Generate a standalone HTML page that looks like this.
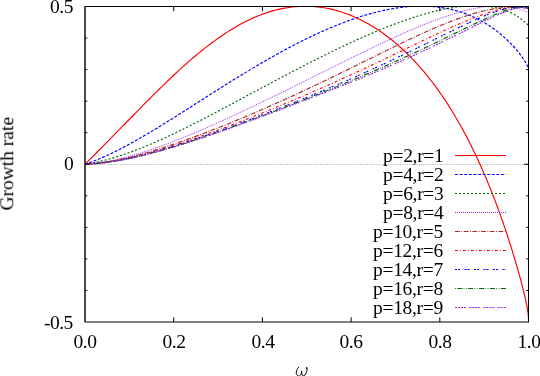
<!DOCTYPE html><html><head><meta charset="utf-8"><title>Growth rate</title><style>
html,body{margin:0;padding:0;background:#fff;}
#w{position:relative;width:540px;height:376px;overflow:hidden;background:#fff;font-family:"Liberation Serif",serif;font-size:19.5px;color:#000;}
.t{position:absolute;white-space:nowrap;line-height:1;will-change:transform;}
</style></head><body><div id="w">
<svg width="540" height="376" viewBox="0 0 540 376" style="position:absolute;left:0;top:0">
<rect width="540" height="376" fill="#fff"/>
<line x1="85.0" y1="164.5" x2="528.5" y2="164.5" stroke="#ababab" stroke-width="1" stroke-dasharray="1 1.35"/>
<clipPath id="c"><rect x="85.0" y="6.5" width="443.5" height="315.5"/></clipPath>
<g clip-path="url(#c)" fill="none" stroke-linejoin="round">
<path d="M85.00,164.25 L87.69,161.57 L90.38,158.88 L93.07,156.18 L95.76,153.48 L98.45,150.78 L101.14,148.07 L103.82,145.35 L106.51,142.63 L109.20,139.90 L111.88,137.17 L114.57,134.44 L117.25,131.70 L119.93,128.96 L122.61,126.22 L125.29,123.48 L127.97,120.74 L130.64,118.00 L133.32,115.27 L135.99,112.54 L138.66,109.82 L141.33,107.10 L144.00,104.40 L146.66,101.71 L149.33,99.03 L151.99,96.36 L154.64,93.71 L157.30,91.08 L159.95,88.47 L162.60,85.88 L165.25,83.31 L167.89,80.76 L170.53,78.24 L173.17,75.75 L175.81,73.29 L178.44,70.85 L181.06,68.45 L183.69,66.07 L186.31,63.74 L188.93,61.43 L191.54,59.17 L194.15,56.94 L196.75,54.75 L199.35,52.60 L201.95,50.49 L204.54,48.42 L207.13,46.40 L209.71,44.42 L212.29,42.48 L214.87,40.59 L217.44,38.75 L220.00,36.96 L222.56,35.21 L225.12,33.51 L227.66,31.86 L230.21,30.25 L232.75,28.70 L235.28,27.20 L237.81,25.75 L240.33,24.35 L242.85,23.01 L245.36,21.71 L247.86,20.47 L250.36,19.28 L252.85,18.14 L255.34,17.05 L257.82,16.02 L260.30,15.04 L262.76,14.11 L265.22,13.24 L267.68,12.41 L270.13,11.64 L272.57,10.92 L275.00,10.26 L277.43,9.64 L279.85,9.08 L282.26,8.57 L284.67,8.11 L287.06,7.70 L289.45,7.35 L291.84,7.04 L294.21,6.78 L296.58,6.57 L298.94,6.41 L301.29,6.30 L303.64,6.24 L305.97,6.23 L308.30,6.26 L310.62,6.35 L312.93,6.47 L315.24,6.65 L317.53,6.87 L319.82,7.14 L322.09,7.45 L324.36,7.80 L326.62,8.20 L328.87,8.65 L331.12,9.13 L333.35,9.66 L335.57,10.23 L337.79,10.85 L339.99,11.50 L342.19,12.20 L344.38,12.93 L346.55,13.71 L348.72,14.53 L350.88,15.38 L353.03,16.27 L355.16,17.20 L357.29,18.17 L359.41,19.18 L361.52,20.22 L363.62,21.30 L365.70,22.42 L367.78,23.57 L369.85,24.75 L371.90,25.97 L373.95,27.23 L375.98,28.52 L378.01,29.84 L380.02,31.20 L382.03,32.59 L384.02,34.01 L386.00,35.47 L387.97,36.96 L389.93,38.48 L391.87,40.03 L393.81,41.61 L395.74,43.22 L397.65,44.87 L399.55,46.54 L401.44,48.24 L403.32,49.98 L405.19,51.74 L407.04,53.53 L408.89,55.35 L410.72,57.20 L412.54,59.08 L414.34,60.98 L416.14,62.91 L417.92,64.87 L419.69,66.86 L421.45,68.87 L423.20,70.91 L424.93,72.98 L426.65,75.07 L428.36,77.18 L430.06,79.33 L431.74,81.49 L433.41,83.68 L435.07,85.90 L436.72,88.13 L438.35,90.40 L439.97,92.68 L441.57,94.99 L443.17,97.31 L444.75,99.66 L446.31,102.04 L447.86,104.43 L449.40,106.84 L450.93,109.27 L452.44,111.72 L453.94,114.19 L455.43,116.68 L456.90,119.19 L458.36,121.71 L459.80,124.25 L461.24,126.80 L462.65,129.38 L464.06,131.96 L465.45,134.56 L466.82,137.17 L468.18,139.80 L469.53,142.44 L470.86,145.09 L472.18,147.75 L473.49,150.42 L474.78,153.10 L476.05,155.78 L477.31,158.48 L478.56,161.18 L479.79,163.89 L481.01,166.60 L482.22,169.32 L483.41,172.03 L484.58,174.76 L485.74,177.48 L486.88,180.20 L488.01,182.93 L489.13,185.65 L490.23,188.37 L491.32,191.08 L492.39,193.79 L493.44,196.50 L494.48,199.20 L495.51,201.89 L496.52,204.57 L497.51,207.25 L498.49,209.91 L499.46,212.56 L500.41,215.20 L501.34,217.83 L502.26,220.44 L503.17,223.03 L504.05,225.61 L504.93,228.17 L505.78,230.71 L506.63,233.23 L507.45,235.73 L508.26,238.21 L509.06,240.66 L509.84,243.09 L510.60,245.50 L511.35,247.88 L512.09,250.23 L512.80,252.55 L513.50,254.85 L514.19,257.11 L514.86,259.35 L515.51,261.55 L516.15,263.73 L516.77,265.87 L517.38,267.97 L517.97,270.04 L518.55,272.08 L519.10,274.08 L519.65,276.05 L520.17,277.97 L520.68,279.86 L521.18,281.72 L521.66,283.53 L522.12,285.31 L522.57,287.05 L523.00,288.75 L523.41,290.41 L523.81,292.03 L524.19,293.61 L524.56,295.15 L524.91,296.66 L525.24,298.12 L525.56,299.55 L525.86,300.93 L526.14,302.28 L526.41,303.59 L526.67,304.86 L526.90,306.09 L527.12,307.29 L527.33,308.45 L527.51,309.58 L527.68,310.67 L527.84,311.73 L527.98,312.75 L528.10,313.75 L528.21,314.71 L528.30,315.64 L528.37,316.54 L528.43,317.42 L528.47,318.27 L528.49,319.09 L528.50,319.89" stroke="#ff0000" stroke-width="1.15"/>
<path d="M85.00,164.25 L87.69,163.33 L90.38,162.37 L93.07,161.36 L95.76,160.31 L98.45,159.21 L101.14,158.08 L103.82,156.90 L106.51,155.69 L109.20,154.45 L111.88,153.17 L114.57,151.86 L117.25,150.53 L119.93,149.16 L122.61,147.77 L125.29,146.35 L127.97,144.91 L130.64,143.45 L133.32,141.97 L135.99,140.47 L138.66,138.95 L141.33,137.41 L144.00,135.86 L146.66,134.29 L149.33,132.71 L151.99,131.12 L154.64,129.51 L157.30,127.90 L159.95,126.28 L162.60,124.64 L165.25,123.01 L167.89,121.36 L170.53,119.71 L173.17,118.06 L175.81,116.40 L178.44,114.74 L181.06,113.07 L183.69,111.41 L186.31,109.74 L188.93,108.08 L191.54,106.41 L194.15,104.75 L196.75,103.09 L199.35,101.43 L201.95,99.77 L204.54,98.12 L207.13,96.48 L209.71,94.83 L212.29,93.20 L214.87,91.57 L217.44,89.94 L220.00,88.32 L222.56,86.71 L225.12,85.11 L227.66,83.52 L230.21,81.93 L232.75,80.36 L235.28,78.79 L237.81,77.24 L240.33,75.69 L242.85,74.16 L245.36,72.63 L247.86,71.12 L250.36,69.62 L252.85,68.13 L255.34,66.65 L257.82,65.19 L260.30,63.74 L262.76,62.30 L265.22,60.88 L267.68,59.47 L270.13,58.08 L272.57,56.70 L275.00,55.33 L277.43,53.98 L279.85,52.64 L282.26,51.32 L284.67,50.02 L287.06,48.73 L289.45,47.46 L291.84,46.20 L294.21,44.96 L296.58,43.74 L298.94,42.53 L301.29,41.34 L303.64,40.17 L305.97,39.02 L308.30,37.88 L310.62,36.77 L312.93,35.67 L315.24,34.58 L317.53,33.52 L319.82,32.47 L322.09,31.45 L324.36,30.44 L326.62,29.45 L328.87,28.48 L331.12,27.53 L333.35,26.60 L335.57,25.69 L337.79,24.80 L339.99,23.93 L342.19,23.07 L344.38,22.24 L346.55,21.43 L348.72,20.64 L350.88,19.87 L353.03,19.12 L355.16,18.39 L357.29,17.68 L359.41,16.99 L361.52,16.32 L363.62,15.67 L365.70,15.05 L367.78,14.44 L369.85,13.86 L371.90,13.29 L373.95,12.75 L375.98,12.23 L378.01,11.73 L380.02,11.25 L382.03,10.79 L384.02,10.36 L386.00,9.94 L387.97,9.55 L389.93,9.18 L391.87,8.83 L393.81,8.50 L395.74,8.19 L397.65,7.91 L399.55,7.64 L401.44,7.40 L403.32,7.18 L405.19,6.98 L407.04,6.80 L408.89,6.64 L410.72,6.50 L412.54,6.39 L414.34,6.29 L416.14,6.22 L417.92,6.16 L419.69,6.13 L421.45,6.12 L423.20,6.13 L424.93,6.16 L426.65,6.21 L428.36,6.28 L430.06,6.37 L431.74,6.48 L433.41,6.61 L435.07,6.76 L436.72,6.93 L438.35,7.12 L439.97,7.33 L441.57,7.56 L443.17,7.81 L444.75,8.07 L446.31,8.36 L447.86,8.66 L449.40,8.98 L450.93,9.32 L452.44,9.67 L453.94,10.05 L455.43,10.44 L456.90,10.84 L458.36,11.27 L459.80,11.71 L461.24,12.16 L462.65,12.64 L464.06,13.12 L465.45,13.63 L466.82,14.14 L468.18,14.68 L469.53,15.22 L470.86,15.78 L472.18,16.36 L473.49,16.94 L474.78,17.54 L476.05,18.16 L477.31,18.78 L478.56,19.42 L479.79,20.06 L481.01,20.72 L482.22,21.39 L483.41,22.07 L484.58,22.76 L485.74,23.46 L486.88,24.16 L488.01,24.88 L489.13,25.60 L490.23,26.33 L491.32,27.07 L492.39,27.82 L493.44,28.57 L494.48,29.33 L495.51,30.09 L496.52,30.86 L497.51,31.63 L498.49,32.40 L499.46,33.18 L500.41,33.96 L501.34,34.75 L502.26,35.53 L503.17,36.32 L504.05,37.11 L504.93,37.90 L505.78,38.69 L506.63,39.48 L507.45,40.27 L508.26,41.06 L509.06,41.84 L509.84,42.62 L510.60,43.40 L511.35,44.18 L512.09,44.95 L512.80,45.72 L513.50,46.49 L514.19,47.25 L514.86,48.00 L515.51,48.75 L516.15,49.49 L516.77,50.22 L517.38,50.95 L517.97,51.67 L518.55,52.38 L519.10,53.08 L519.65,53.77 L520.17,54.46 L520.68,55.13 L521.18,55.79 L521.66,56.45 L522.12,57.09 L522.57,57.72 L523.00,58.35 L523.41,58.95 L523.81,59.55 L524.19,60.14 L524.56,60.71 L524.91,61.27 L525.24,61.82 L525.56,62.36 L525.86,62.88 L526.14,63.39 L526.41,63.89 L526.67,64.37 L526.90,64.85 L527.12,65.30 L527.33,65.75 L527.51,66.18 L527.68,66.60 L527.84,67.01 L527.98,67.41 L528.10,67.79 L528.21,68.16 L528.30,68.52 L528.37,68.87 L528.43,69.21 L528.47,69.53 L528.49,69.85 L528.50,70.16" stroke="#0000ff" stroke-width="1.15" stroke-dasharray="3 1.6"/>
<path d="M85.00,164.25 L87.69,163.84 L90.38,163.38 L93.07,162.88 L95.76,162.34 L98.45,161.75 L101.14,161.13 L103.82,160.47 L106.51,159.78 L109.20,159.05 L111.88,158.28 L114.57,157.48 L117.25,156.66 L119.93,155.80 L122.61,154.91 L125.29,154.00 L127.97,153.06 L130.64,152.09 L133.32,151.10 L135.99,150.09 L138.66,149.05 L141.33,147.99 L144.00,146.91 L146.66,145.81 L149.33,144.70 L151.99,143.56 L154.64,142.41 L157.30,141.24 L159.95,140.06 L162.60,138.86 L165.25,137.65 L167.89,136.42 L170.53,135.19 L173.17,133.94 L175.81,132.68 L178.44,131.41 L181.06,130.13 L183.69,128.84 L186.31,127.55 L188.93,126.24 L191.54,124.93 L194.15,123.61 L196.75,122.29 L199.35,120.96 L201.95,119.63 L204.54,118.29 L207.13,116.95 L209.71,115.60 L212.29,114.26 L214.87,112.91 L217.44,111.55 L220.00,110.20 L222.56,108.84 L225.12,107.49 L227.66,106.13 L230.21,104.78 L232.75,103.42 L235.28,102.07 L237.81,100.72 L240.33,99.37 L242.85,98.02 L245.36,96.67 L247.86,95.33 L250.36,93.99 L252.85,92.65 L255.34,91.31 L257.82,89.98 L260.30,88.66 L262.76,87.34 L265.22,86.02 L267.68,84.71 L270.13,83.40 L272.57,82.10 L275.00,80.81 L277.43,79.52 L279.85,78.23 L282.26,76.96 L284.67,75.69 L287.06,74.42 L289.45,73.17 L291.84,71.92 L294.21,70.68 L296.58,69.44 L298.94,68.22 L301.29,67.00 L303.64,65.79 L305.97,64.59 L308.30,63.39 L310.62,62.21 L312.93,61.04 L315.24,59.87 L317.53,58.71 L319.82,57.57 L322.09,56.43 L324.36,55.30 L326.62,54.18 L328.87,53.08 L331.12,51.98 L333.35,50.89 L335.57,49.81 L337.79,48.75 L339.99,47.69 L342.19,46.65 L344.38,45.61 L346.55,44.59 L348.72,43.58 L350.88,42.58 L353.03,41.59 L355.16,40.61 L357.29,39.64 L359.41,38.69 L361.52,37.75 L363.62,36.82 L365.70,35.90 L367.78,34.99 L369.85,34.10 L371.90,33.22 L373.95,32.35 L375.98,31.49 L378.01,30.65 L380.02,29.82 L382.03,29.00 L384.02,28.19 L386.00,27.40 L387.97,26.62 L389.93,25.86 L391.87,25.10 L393.81,24.37 L395.74,23.64 L397.65,22.93 L399.55,22.23 L401.44,21.55 L403.32,20.88 L405.19,20.22 L407.04,19.58 L408.89,18.95 L410.72,18.33 L412.54,17.73 L414.34,17.14 L416.14,16.57 L417.92,16.01 L419.69,15.47 L421.45,14.94 L423.20,14.43 L424.93,13.93 L426.65,13.44 L428.36,12.97 L430.06,12.51 L431.74,12.07 L433.41,11.64 L435.07,11.23 L436.72,10.83 L438.35,10.45 L439.97,10.08 L441.57,9.73 L443.17,9.39 L444.75,9.06 L446.31,8.76 L447.86,8.46 L449.40,8.18 L450.93,7.92 L452.44,7.67 L453.94,7.43 L455.43,7.21 L456.90,7.01 L458.36,6.82 L459.80,6.64 L461.24,6.48 L462.65,6.34 L464.06,6.20 L465.45,6.09 L466.82,5.98 L468.18,5.89 L469.53,5.82 L470.86,5.76 L472.18,5.72 L473.49,5.68 L474.78,5.67 L476.05,5.66 L477.31,5.67 L478.56,5.70 L479.79,5.74 L481.01,5.79 L482.22,5.85 L483.41,5.93 L484.58,6.02 L485.74,6.12 L486.88,6.24 L488.01,6.37 L489.13,6.51 L490.23,6.66 L491.32,6.83 L492.39,7.01 L493.44,7.19 L494.48,7.39 L495.51,7.61 L496.52,7.83 L497.51,8.06 L498.49,8.30 L499.46,8.56 L500.41,8.82 L501.34,9.09 L502.26,9.37 L503.17,9.66 L504.05,9.96 L504.93,10.27 L505.78,10.59 L506.63,10.91 L507.45,11.24 L508.26,11.57 L509.06,11.92 L509.84,12.27 L510.60,12.62 L511.35,12.98 L512.09,13.35 L512.80,13.71 L513.50,14.09 L514.19,14.46 L514.86,14.84 L515.51,15.22 L516.15,15.61 L516.77,15.99 L517.38,16.37 L517.97,16.76 L518.55,17.14 L519.10,17.53 L519.65,17.91 L520.17,18.29 L520.68,18.66 L521.18,19.04 L521.66,19.41 L522.12,19.77 L522.57,20.13 L523.00,20.48 L523.41,20.82 L523.81,21.16 L524.19,21.49 L524.56,21.81 L524.91,22.11 L525.24,22.41 L525.56,22.70 L525.86,22.97 L526.14,23.23 L526.41,23.47 L526.67,23.70 L526.90,23.91 L527.12,24.11 L527.33,24.29 L527.51,24.44 L527.68,24.58 L527.84,24.70 L527.98,24.79 L528.10,24.86 L528.21,24.90 L528.30,24.92 L528.37,24.92 L528.43,24.88 L528.47,24.82 L528.49,24.72 L528.50,24.59" stroke="#006400" stroke-width="1.15" stroke-dasharray="2 2"/>
<path d="M85.00,164.25 L87.69,164.06 L90.38,163.83 L93.07,163.55 L95.76,163.23 L98.45,162.88 L101.14,162.48 L103.82,162.05 L106.51,161.58 L109.20,161.08 L111.88,160.54 L114.57,159.98 L117.25,159.38 L119.93,158.75 L122.61,158.10 L125.29,157.42 L127.97,156.71 L130.64,155.98 L133.32,155.22 L135.99,154.44 L138.66,153.64 L141.33,152.82 L144.00,151.97 L146.66,151.11 L149.33,150.23 L151.99,149.33 L154.64,148.41 L157.30,147.48 L159.95,146.53 L162.60,145.57 L165.25,144.59 L167.89,143.60 L170.53,142.60 L173.17,141.58 L175.81,140.55 L178.44,139.51 L181.06,138.46 L183.69,137.40 L186.31,136.33 L188.93,135.25 L191.54,134.17 L194.15,133.07 L196.75,131.96 L199.35,130.85 L201.95,129.73 L204.54,128.61 L207.13,127.48 L209.71,126.34 L212.29,125.20 L214.87,124.05 L217.44,122.90 L220.00,121.74 L222.56,120.58 L225.12,119.42 L227.66,118.25 L230.21,117.08 L232.75,115.90 L235.28,114.72 L237.81,113.54 L240.33,112.36 L242.85,111.18 L245.36,109.99 L247.86,108.81 L250.36,107.62 L252.85,106.43 L255.34,105.24 L257.82,104.05 L260.30,102.86 L262.76,101.67 L265.22,100.48 L267.68,99.29 L270.13,98.10 L272.57,96.91 L275.00,95.72 L277.43,94.54 L279.85,93.35 L282.26,92.17 L284.67,90.98 L287.06,89.80 L289.45,88.63 L291.84,87.45 L294.21,86.27 L296.58,85.10 L298.94,83.93 L301.29,82.77 L303.64,81.61 L305.97,80.45 L308.30,79.29 L310.62,78.14 L312.93,76.99 L315.24,75.84 L317.53,74.70 L319.82,73.56 L322.09,72.43 L324.36,71.30 L326.62,70.18 L328.87,69.06 L331.12,67.95 L333.35,66.84 L335.57,65.74 L337.79,64.64 L339.99,63.55 L342.19,62.46 L344.38,61.38 L346.55,60.31 L348.72,59.24 L350.88,58.18 L353.03,57.12 L355.16,56.08 L357.29,55.03 L359.41,54.00 L361.52,52.97 L363.62,51.95 L365.70,50.94 L367.78,49.94 L369.85,48.94 L371.90,47.96 L373.95,46.98 L375.98,46.01 L378.01,45.04 L380.02,44.09 L382.03,43.15 L384.02,42.21 L386.00,41.28 L387.97,40.37 L389.93,39.46 L391.87,38.56 L393.81,37.67 L395.74,36.79 L397.65,35.93 L399.55,35.07 L401.44,34.22 L403.32,33.38 L405.19,32.56 L407.04,31.74 L408.89,30.94 L410.72,30.14 L412.54,29.36 L414.34,28.59 L416.14,27.83 L417.92,27.09 L419.69,26.35 L421.45,25.63 L423.20,24.92 L424.93,24.22 L426.65,23.53 L428.36,22.85 L430.06,22.19 L431.74,21.54 L433.41,20.90 L435.07,20.28 L436.72,19.67 L438.35,19.07 L439.97,18.48 L441.57,17.91 L443.17,17.35 L444.75,16.80 L446.31,16.27 L447.86,15.75 L449.40,15.25 L450.93,14.75 L452.44,14.27 L453.94,13.81 L455.43,13.36 L456.90,12.92 L458.36,12.49 L459.80,12.08 L461.24,11.68 L462.65,11.30 L464.06,10.93 L465.45,10.57 L466.82,10.23 L468.18,9.90 L469.53,9.58 L470.86,9.28 L472.18,8.99 L473.49,8.71 L474.78,8.45 L476.05,8.20 L477.31,7.96 L478.56,7.74 L479.79,7.53 L481.01,7.33 L482.22,7.15 L483.41,6.98 L484.58,6.82 L485.74,6.68 L486.88,6.54 L488.01,6.42 L489.13,6.31 L490.23,6.21 L491.32,6.13 L492.39,6.06 L493.44,5.99 L494.48,5.94 L495.51,5.90 L496.52,5.88 L497.51,5.86 L498.49,5.85 L499.46,5.85 L500.41,5.87 L501.34,5.89 L502.26,5.92 L503.17,5.97 L504.05,6.02 L504.93,6.08 L505.78,6.15 L506.63,6.23 L507.45,6.31 L508.26,6.40 L509.06,6.51 L509.84,6.61 L510.60,6.73 L511.35,6.85 L512.09,6.98 L512.80,7.11 L513.50,7.25 L514.19,7.40 L514.86,7.55 L515.51,7.70 L516.15,7.86 L516.77,8.02 L517.38,8.19 L517.97,8.36 L518.55,8.53 L519.10,8.71 L519.65,8.88 L520.17,9.06 L520.68,9.24 L521.18,9.42 L521.66,9.61 L522.12,9.79 L522.57,9.97 L523.00,10.15 L523.41,10.33 L523.81,10.51 L524.19,10.69 L524.56,10.86 L524.91,11.03 L525.24,11.20 L525.56,11.37 L525.86,11.53 L526.14,11.69 L526.41,11.84 L526.67,11.99 L526.90,12.13 L527.12,12.27 L527.33,12.40 L527.51,12.53 L527.68,12.65 L527.84,12.76 L527.98,12.86 L528.10,12.96 L528.21,13.04 L528.30,13.12 L528.37,13.19 L528.43,13.25 L528.47,13.30 L528.49,13.35 L528.50,13.38" stroke="#a020f0" stroke-width="1.0" stroke-dasharray="1 1"/>
<path d="M85.00,164.25 L87.69,164.10 L90.38,163.91 L93.07,163.68 L95.76,163.41 L98.45,163.10 L101.14,162.76 L103.82,162.38 L106.51,161.97 L109.20,161.53 L111.88,161.06 L114.57,160.56 L117.25,160.03 L119.93,159.47 L122.61,158.90 L125.29,158.29 L127.97,157.67 L130.64,157.02 L133.32,156.35 L135.99,155.66 L138.66,154.95 L141.33,154.23 L144.00,153.48 L146.66,152.72 L149.33,151.95 L151.99,151.16 L154.64,150.35 L157.30,149.53 L159.95,148.70 L162.60,147.86 L165.25,147.00 L167.89,146.14 L170.53,145.26 L173.17,144.37 L175.81,143.47 L178.44,142.56 L181.06,141.65 L183.69,140.72 L186.31,139.79 L188.93,138.85 L191.54,137.90 L194.15,136.94 L196.75,135.98 L199.35,135.01 L201.95,134.03 L204.54,133.05 L207.13,132.06 L209.71,131.07 L212.29,130.07 L214.87,129.06 L217.44,128.05 L220.00,127.04 L222.56,126.02 L225.12,125.00 L227.66,123.97 L230.21,122.94 L232.75,121.90 L235.28,120.86 L237.81,119.82 L240.33,118.78 L242.85,117.73 L245.36,116.67 L247.86,115.62 L250.36,114.56 L252.85,113.50 L255.34,112.44 L257.82,111.37 L260.30,110.30 L262.76,109.23 L265.22,108.16 L267.68,107.08 L270.13,106.00 L272.57,104.92 L275.00,103.84 L277.43,102.76 L279.85,101.68 L282.26,100.59 L284.67,99.51 L287.06,98.42 L289.45,97.33 L291.84,96.24 L294.21,95.15 L296.58,94.06 L298.94,92.97 L301.29,91.87 L303.64,90.78 L305.97,89.69 L308.30,88.60 L310.62,87.51 L312.93,86.41 L315.24,85.32 L317.53,84.23 L319.82,83.14 L322.09,82.05 L324.36,80.97 L326.62,79.88 L328.87,78.80 L331.12,77.71 L333.35,76.63 L335.57,75.55 L337.79,74.48 L339.99,73.40 L342.19,72.33 L344.38,71.26 L346.55,70.19 L348.72,69.13 L350.88,68.07 L353.03,67.01 L355.16,65.96 L357.29,64.91 L359.41,63.87 L361.52,62.83 L363.62,61.79 L365.70,60.76 L367.78,59.73 L369.85,58.71 L371.90,57.69 L373.95,56.68 L375.98,55.68 L378.01,54.68 L380.02,53.69 L382.03,52.70 L384.02,51.72 L386.00,50.75 L387.97,49.79 L389.93,48.83 L391.87,47.88 L393.81,46.93 L395.74,46.00 L397.65,45.07 L399.55,44.15 L401.44,43.24 L403.32,42.34 L405.19,41.45 L407.04,40.57 L408.89,39.69 L410.72,38.83 L412.54,37.97 L414.34,37.13 L416.14,36.29 L417.92,35.47 L419.69,34.65 L421.45,33.85 L423.20,33.06 L424.93,32.27 L426.65,31.50 L428.36,30.74 L430.06,29.99 L431.74,29.26 L433.41,28.53 L435.07,27.82 L436.72,27.12 L438.35,26.43 L439.97,25.75 L441.57,25.08 L443.17,24.43 L444.75,23.79 L446.31,23.16 L447.86,22.54 L449.40,21.94 L450.93,21.35 L452.44,20.77 L453.94,20.21 L455.43,19.65 L456.90,19.11 L458.36,18.59 L459.80,18.07 L461.24,17.57 L462.65,17.08 L464.06,16.61 L465.45,16.15 L466.82,15.70 L468.18,15.26 L469.53,14.84 L470.86,14.43 L472.18,14.03 L473.49,13.65 L474.78,13.27 L476.05,12.91 L477.31,12.56 L478.56,12.23 L479.79,11.91 L481.01,11.60 L482.22,11.30 L483.41,11.01 L484.58,10.73 L485.74,10.47 L486.88,10.22 L488.01,9.98 L489.13,9.75 L490.23,9.53 L491.32,9.32 L492.39,9.12 L493.44,8.94 L494.48,8.76 L495.51,8.59 L496.52,8.44 L497.51,8.29 L498.49,8.15 L499.46,8.02 L500.41,7.90 L501.34,7.79 L502.26,7.69 L503.17,7.59 L504.05,7.51 L504.93,7.43 L505.78,7.36 L506.63,7.29 L507.45,7.24 L508.26,7.19 L509.06,7.14 L509.84,7.11 L510.60,7.08 L511.35,7.05 L512.09,7.03 L512.80,7.02 L513.50,7.01 L514.19,7.00 L514.86,7.00 L515.51,7.01 L516.15,7.01 L516.77,7.03 L517.38,7.04 L517.97,7.06 L518.55,7.08 L519.10,7.11 L519.65,7.14 L520.17,7.17 L520.68,7.20 L521.18,7.24 L521.66,7.28 L522.12,7.32 L522.57,7.36 L523.00,7.41 L523.41,7.45 L523.81,7.50 L524.19,7.55 L524.56,7.61 L524.91,7.66 L525.24,7.72 L525.56,7.78 L525.86,7.84 L526.14,7.90 L526.41,7.97 L526.67,8.03 L526.90,8.10 L527.12,8.18 L527.33,8.25 L527.51,8.34 L527.68,8.42 L527.84,8.51 L527.98,8.60 L528.10,8.70 L528.21,8.80 L528.30,8.91 L528.37,9.03 L528.43,9.15 L528.47,9.29 L528.49,9.43 L528.50,9.58" stroke="#a52a2a" stroke-width="1.15" stroke-dasharray="4.8 1.5 0.9 1.5"/>
<path d="M85.00,164.25 L87.69,164.13 L90.38,163.96 L93.07,163.75 L95.76,163.51 L98.45,163.23 L101.14,162.92 L103.82,162.57 L106.51,162.19 L109.20,161.79 L111.88,161.35 L114.57,160.88 L117.25,160.39 L119.93,159.87 L122.61,159.33 L125.29,158.76 L127.97,158.18 L130.64,157.57 L133.32,156.94 L135.99,156.29 L138.66,155.62 L141.33,154.94 L144.00,154.24 L146.66,153.52 L149.33,152.79 L151.99,152.04 L154.64,151.28 L157.30,150.51 L159.95,149.72 L162.60,148.92 L165.25,148.11 L167.89,147.29 L170.53,146.46 L173.17,145.62 L175.81,144.78 L178.44,143.92 L181.06,143.05 L183.69,142.18 L186.31,141.30 L188.93,140.41 L191.54,139.52 L194.15,138.61 L196.75,137.71 L199.35,136.80 L201.95,135.88 L204.54,134.95 L207.13,134.03 L209.71,133.09 L212.29,132.16 L214.87,131.22 L217.44,130.27 L220.00,129.32 L222.56,128.37 L225.12,127.42 L227.66,126.46 L230.21,125.50 L232.75,124.53 L235.28,123.57 L237.81,122.60 L240.33,121.63 L242.85,120.65 L245.36,119.68 L247.86,118.70 L250.36,117.72 L252.85,116.74 L255.34,115.75 L257.82,114.77 L260.30,113.78 L262.76,112.79 L265.22,111.80 L267.68,110.81 L270.13,109.82 L272.57,108.83 L275.00,107.83 L277.43,106.84 L279.85,105.84 L282.26,104.84 L284.67,103.84 L287.06,102.85 L289.45,101.85 L291.84,100.85 L294.21,99.85 L296.58,98.84 L298.94,97.84 L301.29,96.84 L303.64,95.84 L305.97,94.83 L308.30,93.83 L310.62,92.83 L312.93,91.83 L315.24,90.82 L317.53,89.82 L319.82,88.82 L322.09,87.81 L324.36,86.81 L326.62,85.81 L328.87,84.81 L331.12,83.81 L333.35,82.81 L335.57,81.81 L337.79,80.81 L339.99,79.81 L342.19,78.82 L344.38,77.82 L346.55,76.83 L348.72,75.84 L350.88,74.85 L353.03,73.86 L355.16,72.87 L357.29,71.88 L359.41,70.90 L361.52,69.92 L363.62,68.94 L365.70,67.96 L367.78,66.98 L369.85,66.01 L371.90,65.04 L373.95,64.08 L375.98,63.11 L378.01,62.15 L380.02,61.20 L382.03,60.24 L384.02,59.29 L386.00,58.35 L387.97,57.40 L389.93,56.46 L391.87,55.53 L393.81,54.60 L395.74,53.68 L397.65,52.76 L399.55,51.84 L401.44,50.93 L403.32,50.03 L405.19,49.13 L407.04,48.23 L408.89,47.34 L410.72,46.46 L412.54,45.58 L414.34,44.71 L416.14,43.85 L417.92,42.99 L419.69,42.14 L421.45,41.30 L423.20,40.47 L424.93,39.64 L426.65,38.82 L428.36,38.00 L430.06,37.20 L431.74,36.40 L433.41,35.61 L435.07,34.83 L436.72,34.06 L438.35,33.29 L439.97,32.54 L441.57,31.79 L443.17,31.06 L444.75,30.33 L446.31,29.61 L447.86,28.91 L449.40,28.21 L450.93,27.52 L452.44,26.84 L453.94,26.17 L455.43,25.52 L456.90,24.87 L458.36,24.23 L459.80,23.61 L461.24,22.99 L462.65,22.39 L464.06,21.80 L465.45,21.22 L466.82,20.65 L468.18,20.09 L469.53,19.54 L470.86,19.01 L472.18,18.48 L473.49,17.97 L474.78,17.47 L476.05,16.99 L477.31,16.51 L478.56,16.05 L479.79,15.59 L481.01,15.15 L482.22,14.73 L483.41,14.31 L484.58,13.91 L485.74,13.52 L486.88,13.14 L488.01,12.77 L489.13,12.42 L490.23,12.08 L491.32,11.75 L492.39,11.43 L493.44,11.12 L494.48,10.83 L495.51,10.55 L496.52,10.28 L497.51,10.02 L498.49,9.78 L499.46,9.54 L500.41,9.32 L501.34,9.11 L502.26,8.91 L503.17,8.72 L504.05,8.54 L504.93,8.38 L505.78,8.22 L506.63,8.08 L507.45,7.94 L508.26,7.82 L509.06,7.71 L509.84,7.60 L510.60,7.51 L511.35,7.42 L512.09,7.35 L512.80,7.28 L513.50,7.22 L514.19,7.18 L514.86,7.14 L515.51,7.10 L516.15,7.08 L516.77,7.06 L517.38,7.05 L517.97,7.05 L518.55,7.05 L519.10,7.06 L519.65,7.08 L520.17,7.10 L520.68,7.12 L521.18,7.16 L521.66,7.19 L522.12,7.23 L522.57,7.27 L523.00,7.32 L523.41,7.37 L523.81,7.42 L524.19,7.48 L524.56,7.53 L524.91,7.59 L525.24,7.65 L525.56,7.71 L525.86,7.77 L526.14,7.83 L526.41,7.89 L526.67,7.94 L526.90,8.00 L527.12,8.05 L527.33,8.10 L527.51,8.14 L527.68,8.19 L527.84,8.23 L527.98,8.26 L528.10,8.29 L528.21,8.31 L528.30,8.33 L528.37,8.33 L528.43,8.34 L528.47,8.33 L528.49,8.32 L528.50,8.29" stroke="#ff0000" stroke-width="1.15" stroke-dasharray="2.8 2.2 0.8 2.2"/>
<path d="M85.00,164.25 L87.69,164.14 L90.38,163.98 L93.07,163.79 L95.76,163.56 L98.45,163.30 L101.14,163.01 L103.82,162.68 L106.51,162.32 L109.20,161.93 L111.88,161.52 L114.57,161.07 L117.25,160.60 L119.93,160.11 L122.61,159.59 L125.29,159.05 L127.97,158.48 L130.64,157.90 L133.32,157.29 L135.99,156.67 L138.66,156.03 L141.33,155.37 L144.00,154.69 L146.66,154.00 L149.33,153.29 L151.99,152.57 L154.64,151.83 L157.30,151.08 L159.95,150.32 L162.60,149.55 L165.25,148.76 L167.89,147.97 L170.53,147.16 L173.17,146.35 L175.81,145.52 L178.44,144.69 L181.06,143.85 L183.69,143.00 L186.31,142.15 L188.93,141.28 L191.54,140.42 L194.15,139.54 L196.75,138.66 L199.35,137.78 L201.95,136.89 L204.54,135.99 L207.13,135.09 L209.71,134.19 L212.29,133.28 L214.87,132.37 L217.44,131.46 L220.00,130.54 L222.56,129.62 L225.12,128.70 L227.66,127.78 L230.21,126.85 L232.75,125.92 L235.28,124.99 L237.81,124.06 L240.33,123.12 L242.85,122.19 L245.36,121.25 L247.86,120.32 L250.36,119.38 L252.85,118.44 L255.34,117.50 L257.82,116.56 L260.30,115.61 L262.76,114.67 L265.22,113.73 L267.68,112.79 L270.13,111.84 L272.57,110.90 L275.00,109.95 L277.43,109.01 L279.85,108.06 L282.26,107.12 L284.67,106.17 L287.06,105.23 L289.45,104.28 L291.84,103.33 L294.21,102.39 L296.58,101.44 L298.94,100.50 L301.29,99.55 L303.64,98.61 L305.97,97.66 L308.30,96.72 L310.62,95.77 L312.93,94.82 L315.24,93.88 L317.53,92.93 L319.82,91.99 L322.09,91.05 L324.36,90.10 L326.62,89.16 L328.87,88.21 L331.12,87.27 L333.35,86.33 L335.57,85.38 L337.79,84.44 L339.99,83.50 L342.19,82.56 L344.38,81.61 L346.55,80.67 L348.72,79.73 L350.88,78.79 L353.03,77.85 L355.16,76.92 L357.29,75.98 L359.41,75.04 L361.52,74.10 L363.62,73.17 L365.70,72.23 L367.78,71.30 L369.85,70.37 L371.90,69.44 L373.95,68.51 L375.98,67.58 L378.01,66.65 L380.02,65.73 L382.03,64.80 L384.02,63.88 L386.00,62.96 L387.97,62.04 L389.93,61.12 L391.87,60.21 L393.81,59.30 L395.74,58.39 L397.65,57.48 L399.55,56.57 L401.44,55.67 L403.32,54.77 L405.19,53.88 L407.04,52.98 L408.89,52.09 L410.72,51.21 L412.54,50.32 L414.34,49.44 L416.14,48.57 L417.92,47.70 L419.69,46.83 L421.45,45.97 L423.20,45.11 L424.93,44.26 L426.65,43.41 L428.36,42.57 L430.06,41.73 L431.74,40.90 L433.41,40.07 L435.07,39.25 L436.72,38.44 L438.35,37.63 L439.97,36.83 L441.57,36.04 L443.17,35.25 L444.75,34.47 L446.31,33.70 L447.86,32.93 L449.40,32.17 L450.93,31.42 L452.44,30.68 L453.94,29.95 L455.43,29.23 L456.90,28.51 L458.36,27.80 L459.80,27.11 L461.24,26.42 L462.65,25.74 L464.06,25.07 L465.45,24.41 L466.82,23.76 L468.18,23.13 L469.53,22.50 L470.86,21.88 L472.18,21.28 L473.49,20.69 L474.78,20.10 L476.05,19.53 L477.31,18.97 L478.56,18.43 L479.79,17.89 L481.01,17.37 L482.22,16.86 L483.41,16.36 L484.58,15.87 L485.74,15.40 L486.88,14.94 L488.01,14.50 L489.13,14.06 L490.23,13.64 L491.32,13.24 L492.39,12.84 L493.44,12.46 L494.48,12.10 L495.51,11.75 L496.52,11.41 L497.51,11.08 L498.49,10.77 L499.46,10.48 L500.41,10.19 L501.34,9.92 L502.26,9.67 L503.17,9.43 L504.05,9.20 L504.93,8.98 L505.78,8.78 L506.63,8.59 L507.45,8.42 L508.26,8.26 L509.06,8.11 L509.84,7.98 L510.60,7.85 L511.35,7.74 L512.09,7.65 L512.80,7.56 L513.50,7.49 L514.19,7.42 L514.86,7.37 L515.51,7.33 L516.15,7.30 L516.77,7.28 L517.38,7.27 L517.97,7.27 L518.55,7.28 L519.10,7.30 L519.65,7.32 L520.17,7.36 L520.68,7.39 L521.18,7.44 L521.66,7.49 L522.12,7.55 L522.57,7.61 L523.00,7.67 L523.41,7.74 L523.81,7.81 L524.19,7.88 L524.56,7.95 L524.91,8.02 L525.24,8.09 L525.56,8.16 L525.86,8.22 L526.14,8.28 L526.41,8.34 L526.67,8.39 L526.90,8.43 L527.12,8.46 L527.33,8.49 L527.51,8.50 L527.68,8.50 L527.84,8.49 L527.98,8.46 L528.10,8.42 L528.21,8.36 L528.30,8.28 L528.37,8.18 L528.43,8.06 L528.47,7.91 L528.49,7.74 L528.50,7.54" stroke="#0000ff" stroke-width="1.15" stroke-dasharray="2 1 2 4.5"/>
<path d="M85.00,164.25 L87.69,164.14 L90.38,163.99 L93.07,163.80 L95.76,163.58 L98.45,163.33 L101.14,163.05 L103.82,162.74 L106.51,162.40 L109.20,162.03 L111.88,161.63 L114.57,161.21 L117.25,160.76 L119.93,160.29 L122.61,159.79 L125.29,159.27 L127.97,158.73 L130.64,158.17 L133.32,157.59 L135.99,156.99 L138.66,156.37 L141.33,155.73 L144.00,155.08 L146.66,154.41 L149.33,153.72 L151.99,153.02 L154.64,152.30 L157.30,151.58 L159.95,150.83 L162.60,150.08 L165.25,149.31 L167.89,148.54 L170.53,147.75 L173.17,146.95 L175.81,146.14 L178.44,145.33 L181.06,144.50 L183.69,143.67 L186.31,142.82 L188.93,141.97 L191.54,141.12 L194.15,140.26 L196.75,139.39 L199.35,138.51 L201.95,137.63 L204.54,136.75 L207.13,135.86 L209.71,134.97 L212.29,134.07 L214.87,133.17 L217.44,132.26 L220.00,131.35 L222.56,130.44 L225.12,129.53 L227.66,128.61 L230.21,127.69 L232.75,126.77 L235.28,125.85 L237.81,124.92 L240.33,124.00 L242.85,123.07 L245.36,122.14 L247.86,121.22 L250.36,120.29 L252.85,119.36 L255.34,118.43 L257.82,117.49 L260.30,116.56 L262.76,115.63 L265.22,114.70 L267.68,113.77 L270.13,112.84 L272.57,111.91 L275.00,110.98 L277.43,110.05 L279.85,109.12 L282.26,108.19 L284.67,107.26 L287.06,106.34 L289.45,105.41 L291.84,104.48 L294.21,103.56 L296.58,102.64 L298.94,101.71 L301.29,100.79 L303.64,99.87 L305.97,98.95 L308.30,98.03 L310.62,97.11 L312.93,96.19 L315.24,95.28 L317.53,94.36 L319.82,93.45 L322.09,92.54 L324.36,91.63 L326.62,90.72 L328.87,89.81 L331.12,88.90 L333.35,87.99 L335.57,87.09 L337.79,86.18 L339.99,85.28 L342.19,84.38 L344.38,83.47 L346.55,82.57 L348.72,81.68 L350.88,80.78 L353.03,79.88 L355.16,78.99 L357.29,78.09 L359.41,77.20 L361.52,76.31 L363.62,75.42 L365.70,74.53 L367.78,73.65 L369.85,72.76 L371.90,71.88 L373.95,70.99 L375.98,70.11 L378.01,69.23 L380.02,68.35 L382.03,67.48 L384.02,66.60 L386.00,65.73 L387.97,64.86 L389.93,63.99 L391.87,63.12 L393.81,62.25 L395.74,61.39 L397.65,60.53 L399.55,59.67 L401.44,58.81 L403.32,57.95 L405.19,57.10 L407.04,56.25 L408.89,55.40 L410.72,54.55 L412.54,53.71 L414.34,52.87 L416.14,52.03 L417.92,51.20 L419.69,50.37 L421.45,49.54 L423.20,48.71 L424.93,47.89 L426.65,47.08 L428.36,46.26 L430.06,45.45 L431.74,44.65 L433.41,43.84 L435.07,43.05 L436.72,42.25 L438.35,41.46 L439.97,40.68 L441.57,39.90 L443.17,39.13 L444.75,38.36 L446.31,37.60 L447.86,36.84 L449.40,36.09 L450.93,35.34 L452.44,34.60 L453.94,33.86 L455.43,33.14 L456.90,32.42 L458.36,31.70 L459.80,31.00 L461.24,30.30 L462.65,29.60 L464.06,28.92 L465.45,28.24 L466.82,27.57 L468.18,26.91 L469.53,26.26 L470.86,25.61 L472.18,24.98 L473.49,24.35 L474.78,23.73 L476.05,23.12 L477.31,22.52 L478.56,21.93 L479.79,21.35 L481.01,20.78 L482.22,20.22 L483.41,19.67 L484.58,19.14 L485.74,18.61 L486.88,18.09 L488.01,17.58 L489.13,17.09 L490.23,16.60 L491.32,16.13 L492.39,15.67 L493.44,15.22 L494.48,14.78 L495.51,14.36 L496.52,13.95 L497.51,13.55 L498.49,13.16 L499.46,12.78 L500.41,12.42 L501.34,12.07 L502.26,11.73 L503.17,11.40 L504.05,11.09 L504.93,10.79 L505.78,10.50 L506.63,10.23 L507.45,9.96 L508.26,9.71 L509.06,9.48 L509.84,9.25 L510.60,9.04 L511.35,8.84 L512.09,8.66 L512.80,8.48 L513.50,8.32 L514.19,8.17 L514.86,8.03 L515.51,7.91 L516.15,7.79 L516.77,7.69 L517.38,7.60 L517.97,7.52 L518.55,7.45 L519.10,7.39 L519.65,7.33 L520.17,7.29 L520.68,7.26 L521.18,7.24 L521.66,7.22 L522.12,7.21 L522.57,7.21 L523.00,7.22 L523.41,7.23 L523.81,7.25 L524.19,7.27 L524.56,7.30 L524.91,7.33 L525.24,7.37 L525.56,7.40 L525.86,7.44 L526.14,7.48 L526.41,7.52 L526.67,7.56 L526.90,7.59 L527.12,7.62 L527.33,7.65 L527.51,7.67 L527.68,7.69 L527.84,7.70 L527.98,7.70 L528.10,7.69 L528.21,7.67 L528.30,7.64 L528.37,7.59 L528.43,7.53 L528.47,7.45 L528.49,7.35 L528.50,7.23" stroke="#006400" stroke-width="1.15" stroke-dasharray="5 1.3 0.8 1.5 0.8 1.5"/>
<path d="M85.00,164.25 L87.69,164.14 L90.38,163.99 L93.07,163.81 L95.76,163.59 L98.45,163.35 L101.14,163.07 L103.82,162.76 L106.51,162.43 L109.20,162.07 L111.88,161.68 L114.57,161.26 L117.25,160.82 L119.93,160.36 L122.61,159.87 L125.29,159.36 L127.97,158.83 L130.64,158.28 L133.32,157.70 L135.99,157.11 L138.66,156.50 L141.33,155.88 L144.00,155.23 L146.66,154.57 L149.33,153.89 L151.99,153.20 L154.64,152.50 L157.30,151.78 L159.95,151.04 L162.60,150.30 L165.25,149.54 L167.89,148.77 L170.53,147.99 L173.17,147.20 L175.81,146.40 L178.44,145.60 L181.06,144.78 L183.69,143.95 L186.31,143.12 L188.93,142.28 L191.54,141.43 L194.15,140.58 L196.75,139.72 L199.35,138.85 L201.95,137.98 L204.54,137.10 L207.13,136.22 L209.71,135.34 L212.29,134.45 L214.87,133.56 L217.44,132.66 L220.00,131.76 L222.56,130.86 L225.12,129.96 L227.66,129.05 L230.21,128.14 L232.75,127.23 L235.28,126.32 L237.81,125.41 L240.33,124.49 L242.85,123.58 L245.36,122.66 L247.86,121.75 L250.36,120.83 L252.85,119.91 L255.34,119.00 L257.82,118.08 L260.30,117.16 L262.76,116.25 L265.22,115.33 L267.68,114.41 L270.13,113.50 L272.57,112.59 L275.00,111.67 L277.43,110.76 L279.85,109.85 L282.26,108.94 L284.67,108.03 L287.06,107.12 L289.45,106.21 L291.84,105.31 L294.21,104.40 L296.58,103.50 L298.94,102.60 L301.29,101.70 L303.64,100.80 L305.97,99.90 L308.30,99.01 L310.62,98.11 L312.93,97.22 L315.24,96.33 L317.53,95.44 L319.82,94.55 L322.09,93.66 L324.36,92.77 L326.62,91.89 L328.87,91.01 L331.12,90.12 L333.35,89.24 L335.57,88.37 L337.79,87.49 L339.99,86.61 L342.19,85.74 L344.38,84.86 L346.55,83.99 L348.72,83.12 L350.88,82.25 L353.03,81.38 L355.16,80.52 L357.29,79.65 L359.41,78.79 L361.52,77.92 L363.62,77.06 L365.70,76.20 L367.78,75.34 L369.85,74.48 L371.90,73.63 L373.95,72.77 L375.98,71.92 L378.01,71.06 L380.02,70.21 L382.03,69.36 L384.02,68.51 L386.00,67.66 L387.97,66.82 L389.93,65.97 L391.87,65.13 L393.81,64.28 L395.74,63.44 L397.65,62.60 L399.55,61.76 L401.44,60.93 L403.32,60.09 L405.19,59.26 L407.04,58.43 L408.89,57.60 L410.72,56.77 L412.54,55.95 L414.34,55.12 L416.14,54.30 L417.92,53.48 L419.69,52.66 L421.45,51.85 L423.20,51.04 L424.93,50.23 L426.65,49.42 L428.36,48.61 L430.06,47.81 L431.74,47.01 L433.41,46.22 L435.07,45.43 L436.72,44.64 L438.35,43.85 L439.97,43.07 L441.57,42.29 L443.17,41.52 L444.75,40.75 L446.31,39.98 L447.86,39.22 L449.40,38.47 L450.93,37.71 L452.44,36.97 L453.94,36.23 L455.43,35.49 L456.90,34.76 L458.36,34.03 L459.80,33.32 L461.24,32.60 L462.65,31.89 L464.06,31.19 L465.45,30.50 L466.82,29.81 L468.18,29.13 L469.53,28.46 L470.86,27.79 L472.18,27.14 L473.49,26.49 L474.78,25.84 L476.05,25.21 L477.31,24.59 L478.56,23.97 L479.79,23.36 L481.01,22.76 L482.22,22.17 L483.41,21.59 L484.58,21.02 L485.74,20.46 L486.88,19.91 L488.01,19.37 L489.13,18.84 L490.23,18.32 L491.32,17.81 L492.39,17.32 L493.44,16.83 L494.48,16.35 L495.51,15.89 L496.52,15.44 L497.51,15.00 L498.49,14.57 L499.46,14.15 L500.41,13.75 L501.34,13.36 L502.26,12.98 L503.17,12.61 L504.05,12.26 L504.93,11.91 L505.78,11.58 L506.63,11.27 L507.45,10.96 L508.26,10.67 L509.06,10.39 L509.84,10.13 L510.60,9.88 L511.35,9.64 L512.09,9.41 L512.80,9.19 L513.50,8.99 L514.19,8.80 L514.86,8.63 L515.51,8.46 L516.15,8.31 L516.77,8.17 L517.38,8.04 L517.97,7.92 L518.55,7.81 L519.10,7.72 L519.65,7.63 L520.17,7.56 L520.68,7.49 L521.18,7.44 L521.66,7.39 L522.12,7.35 L522.57,7.32 L523.00,7.30 L523.41,7.28 L523.81,7.28 L524.19,7.27 L524.56,7.28 L524.91,7.28 L525.24,7.30 L525.56,7.31 L525.86,7.33 L526.14,7.35 L526.41,7.37 L526.67,7.38 L526.90,7.40 L527.12,7.42 L527.33,7.43 L527.51,7.44 L527.68,7.44 L527.84,7.44 L527.98,7.43 L528.10,7.41 L528.21,7.38 L528.30,7.33 L528.37,7.28 L528.43,7.20 L528.47,7.12 L528.49,7.01 L528.50,6.88" stroke="#a020f0" stroke-width="1.15" stroke-dasharray="2 1 2 1 2 1 2 3.2"/>
</g>
<line x1="455" y1="155.50" x2="506" y2="155.50" stroke="#ff0000" stroke-width="1.15"/>
<line x1="455" y1="174.50" x2="506" y2="174.50" stroke="#0000ff" stroke-width="1.0" stroke-dasharray="3 1.6"/>
<line x1="455" y1="193.50" x2="506" y2="193.50" stroke="#006400" stroke-width="1.0" stroke-dasharray="2 2"/>
<line x1="455" y1="212.50" x2="506" y2="212.50" stroke="#a020f0" stroke-width="1.0" stroke-dasharray="1 1"/>
<line x1="455" y1="231.50" x2="506" y2="231.50" stroke="#a52a2a" stroke-width="1.0" stroke-dasharray="4.8 1.5 0.9 1.5"/>
<line x1="455" y1="250.50" x2="506" y2="250.50" stroke="#ff0000" stroke-width="1.0" stroke-dasharray="2.8 2.2 0.8 2.2"/>
<line x1="455" y1="269.50" x2="506" y2="269.50" stroke="#0000ff" stroke-width="1.0" stroke-dasharray="2 1 2 4.5"/>
<line x1="455" y1="288.50" x2="506" y2="288.50" stroke="#006400" stroke-width="1.0" stroke-dasharray="5 1.3 0.8 1.5 0.8 1.5" stroke-dashoffset="8.6"/>
<line x1="455" y1="307.50" x2="506" y2="307.50" stroke="#a020f0" stroke-width="1.0" stroke-dasharray="2 1 2 1 2 1 2 3.2"/>
<rect x="85.0" y="6.5" width="443.5" height="315.5" fill="none" stroke="#000" stroke-width="1"/>
<line x1="85.0" y1="6.5" x2="85.0" y2="322.0" stroke="#000" stroke-width="0.8"/>
<path d="M173.70,322.0 v-4.7 M173.70,6.5 v4.7 M262.40,322.0 v-4.7 M262.40,6.5 v4.7 M351.10,322.0 v-4.7 M351.10,6.5 v4.7 M439.80,322.0 v-4.7 M439.80,6.5 v4.7 M85.0,290.45 h2.3 M528.5,290.45 h-2.3 M85.0,258.90 h2.3 M528.5,258.90 h-2.3 M85.0,227.35 h2.3 M528.5,227.35 h-2.3 M85.0,195.80 h2.3 M528.5,195.80 h-2.3 M85.0,164.25 h4.7 M528.5,164.25 h-4.7 M85.0,132.70 h2.3 M528.5,132.70 h-2.3 M85.0,101.15 h2.3 M528.5,101.15 h-2.3 M85.0,69.60 h2.3 M528.5,69.60 h-2.3 M85.0,38.05 h2.3 M528.5,38.05 h-2.3" stroke="#000" stroke-width="1" fill="none"/>
<path d="M298.7,367.1 C297.0,368.8 296.0,371.5 296.3,373.7 C296.6,375.3 298.2,376.3 299.6,375.8 C300.8,375.3 301.5,373.6 301.7,370.9 C301.6,373.6 301.9,375.5 303.0,375.9 C304.3,376.3 305.6,374.7 306.4,372.5 C307.0,370.5 307.4,368.8 306.9,367.7" fill="none" stroke="#000" stroke-width="0.95" stroke-linecap="round"/>
<circle cx="306.7" cy="368.0" r="0.85" fill="#000"/>
</svg>
<div class="t" style="right:467.20px;top:-3.43px;letter-spacing:-0.5px;">0.5</div>
<div class="t" style="right:466.70px;top:154.27px;">0</div>
<div class="t" style="right:467.20px;top:312.67px;letter-spacing:-0.5px;">-0.5</div>
<div class="t" style="left:35.25px;width:100px;text-align:center;top:331.67px;letter-spacing:-0.5px;">0.0</div>
<div class="t" style="left:123.95px;width:100px;text-align:center;top:331.67px;letter-spacing:-0.5px;">0.2</div>
<div class="t" style="left:212.65px;width:100px;text-align:center;top:331.67px;letter-spacing:-0.5px;">0.4</div>
<div class="t" style="left:301.35px;width:100px;text-align:center;top:331.67px;letter-spacing:-0.5px;">0.6</div>
<div class="t" style="left:390.05px;width:100px;text-align:center;top:331.67px;letter-spacing:-0.5px;">0.8</div>
<div class="t" style="left:478.75px;width:100px;text-align:center;top:331.67px;letter-spacing:-0.5px;">1.0</div>
<div class="t" style="right:96.80px;top:145.77px;letter-spacing:-0.3px;">p=2,r=1</div>
<div class="t" style="right:96.80px;top:164.77px;letter-spacing:-0.3px;">p=4,r=2</div>
<div class="t" style="right:96.80px;top:183.77px;letter-spacing:-0.3px;">p=6,r=3</div>
<div class="t" style="right:96.80px;top:202.77px;letter-spacing:-0.3px;">p=8,r=4</div>
<div class="t" style="right:96.80px;top:221.77px;letter-spacing:-0.3px;">p=10,r=5</div>
<div class="t" style="right:96.80px;top:240.77px;letter-spacing:-0.3px;">p=12,r=6</div>
<div class="t" style="right:96.80px;top:259.77px;letter-spacing:-0.3px;">p=14,r=7</div>
<div class="t" style="right:96.80px;top:278.77px;letter-spacing:-0.3px;">p=16,r=8</div>
<div class="t" style="right:96.80px;top:297.77px;letter-spacing:-0.3px;">p=18,r=9</div>
<div class="t" style="left:-52.8px;top:154.35px;width:120px;text-align:center;transform:rotate(-90deg);transform-origin:50% 50%;">Growth rate</div>
</div></body></html>
